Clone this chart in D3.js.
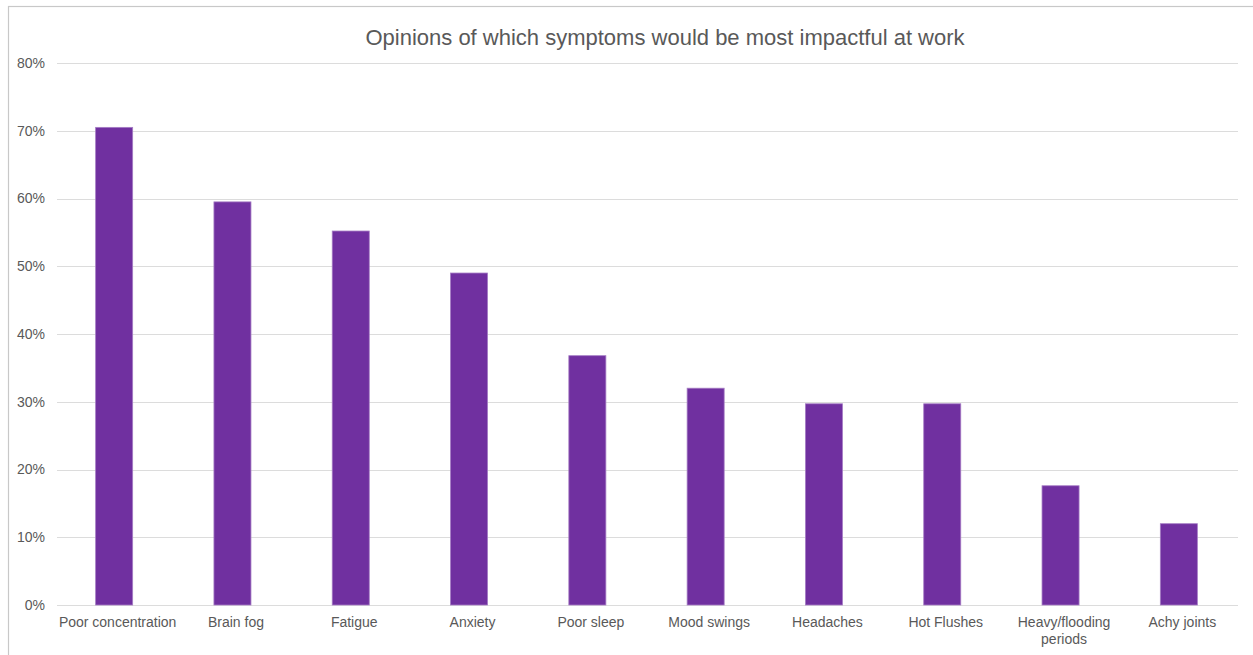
<!DOCTYPE html>
<html>
<head>
<meta charset="utf-8">
<script src="https://cdn.jsdelivr.net/npm/d3@7"></script>
<style>
  html, body { margin: 0; padding: 0; background: #fff; }
  svg { display: block; }
</style>
</head>
<body>
<script>
const categories = ["Poor concentration", "Brain fog", "Fatigue", "Anxiety", "Poor sleep", "Mood swings", "Headaches", "Hot Flushes", "Heavy/flooding periods", "Achy joints"];
const values = [0.705, 0.595, 0.552, 0.49, 0.368, 0.32, 0.297, 0.297, 0.176, 0.12];
const yTicks = [0, 0.1, 0.2, 0.3, 0.4, 0.5, 0.6, 0.7, 0.8];
const title = "Opinions of which symptoms would be most impactful at work";

const W = 1253, H = 655;
const svg = d3.select("body").append("svg").attr("width", W).attr("height", H);

// chart border
svg.append("rect").attr("x", 8.5).attr("y", 6.5).attr("width", W).attr("height", H)
  .attr("fill", "none").attr("stroke", "#c8c8c8").attr("stroke-width", 1.2);

const mLeft = 55, mRight = 1238, mTop = 63, mBottom = 605;
const x = d3.scaleBand().domain(categories).range([mLeft, mRight]).padding(0);
const y = d3.scaleLinear().domain([0, 0.8]).range([mBottom, mTop]);
const FONT = "'Liberation Sans', Arial, Helvetica, sans-serif";

// gridlines
svg.append("g").selectAll("line").data(yTicks).join("line")
  .attr("x1", 57).attr("x2", mRight)
  .attr("y1", d => Math.round(y(d)) + 0.5).attr("y2", d => Math.round(y(d)) + 0.5)
  .attr("stroke", "#dcdcdc").attr("stroke-width", 1);

// y labels
const yAxis = d3.axisLeft(y).tickValues(yTicks).tickFormat(d3.format(".0%")).tickSize(0).tickPadding(0);
const gy = svg.append("g").attr("transform", `translate(45,0)`).call(yAxis);
gy.select(".domain").remove();
gy.selectAll("text").attr("fill", "#595959").attr("font-size", 14).attr("font-family", FONT);

// bars
const barW = x.step() * 0.313;
svg.append("g").selectAll("rect").data(categories).join("rect")
  .attr("x", d => x(d) + x.bandwidth() / 2 - barW / 2)
  .attr("width", barW)
  .attr("y", (d, i) => y(values[i]))
  .attr("height", (d, i) => y(0) - y(values[i]))
  .attr("fill", "#7030A0")
  .attr("stroke", "#a57cc4").attr("stroke-width", 0.8);

// x labels
const labelLines = {
  "Heavy/flooding periods": ["Heavy/flooding", "periods"]
};
const gx = svg.append("g");
categories.forEach(c => {
  const lines = labelLines[c] || [c];
  const cx = x(c) + x.bandwidth() / 2 + 3.5;
  const t = gx.append("text")
    .attr("x", cx)
    .attr("y", 627)
    .attr("text-anchor", "middle")
    .attr("fill", "#595959").attr("font-size", 14).attr("font-family", FONT);
  lines.forEach((l, i) => {
    t.append("tspan").attr("x", cx).attr("dy", i === 0 ? 0 : 17).text(l);
  });
});

// title
svg.append("text").attr("x", 665).attr("y", 45).attr("text-anchor", "middle")
  .attr("fill", "#595959").attr("font-size", 22).attr("font-family", FONT)
  .text(title);
</script>
</body>
</html>
